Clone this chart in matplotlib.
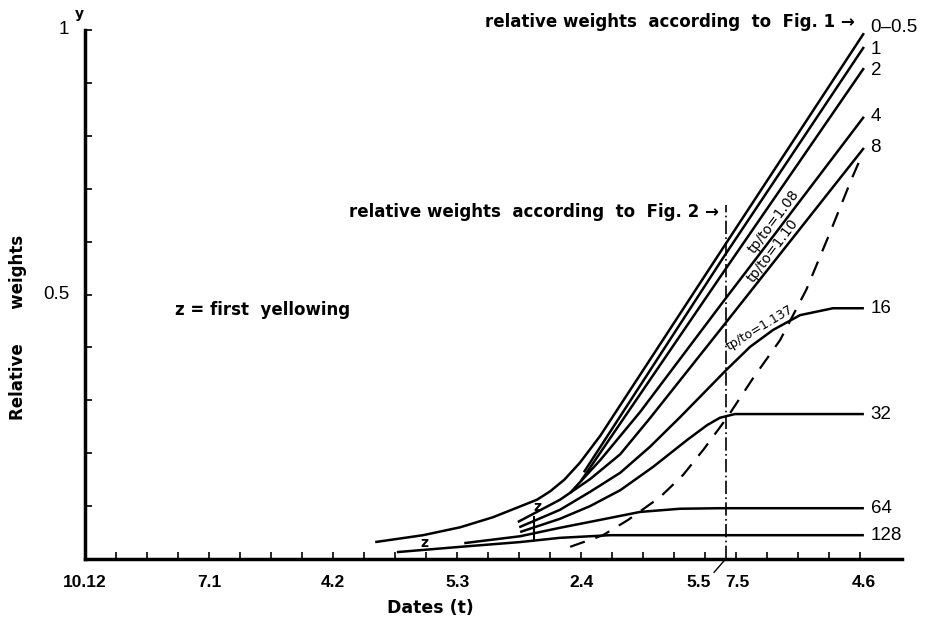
import matplotlib
matplotlib.use("Agg")
import matplotlib.pyplot as plt

# x = days after 10 Dec, y = relative weight
date_pos = [0, 28, 56, 84, 112, 175.8]
date_labels = ["10.12", "7.1", "4.2", "5.3", "2.4", "4.6"]
fig2_day = 144.6
fig1_day = 175.8

curve_labels = ["0\u20130.5", "1", "2", "4", "8", "16", "32", "64", "128"]

c00_x = [65.5, 76.3, 84.7, 92.1, 102.0, 105.0, 108.2, 111.7, 116.3, 144.0, 175.8]
c00_y = [0.032, 0.045, 0.060, 0.079, 0.112, 0.128, 0.150, 0.182, 0.233, 0.588, 0.994]
c01_x = [112.6, 144.0, 175.8]
c01_y = [0.164, 0.569, 0.968]
c02_x = [111.9, 144.0, 175.8]
c02_y = [0.147, 0.541, 0.928]
c04_x = [109.5, 116.3, 125.3, 144.0, 155.5, 175.8]
c04_y = [0.125, 0.187, 0.278, 0.486, 0.612, 0.836]
c08_x = [97.7, 107.2, 114.0, 120.8, 127.5, 144.0, 175.8]
c08_y = [0.070, 0.112, 0.151, 0.198, 0.266, 0.440, 0.777]
c16_x = [98.0, 107.2, 114.0, 120.8, 127.5, 134.3, 144.7, 150.1, 155.3, 161.4, 168.8, 175.8]
c16_y = [0.060, 0.093, 0.127, 0.163, 0.212, 0.268, 0.357, 0.401, 0.433, 0.461, 0.474, 0.474]
c32_x = [98.2, 107.2, 114.0, 120.8, 128.2, 135.9, 140.4, 143.3, 146.7, 175.8]
c32_y = [0.051, 0.076, 0.100, 0.130, 0.174, 0.225, 0.253, 0.267, 0.274, 0.274]
c64_x = [85.6, 98.2, 107.2, 116.3, 125.3, 134.3, 143.3, 175.8]
c64_y = [0.030, 0.043, 0.059, 0.074, 0.089, 0.095, 0.096, 0.096]
c128_x = [70.4, 84.7, 98.2, 107.2, 118.5, 175.8]
c128_y = [0.013, 0.023, 0.032, 0.040, 0.045, 0.045]

dash_x = [109.5, 116.9, 122.6, 129.8, 135.0, 139.7, 144.9, 150.8, 156.9, 162.8, 168.2, 173.1, 175.4]
dash_y = [0.023, 0.045, 0.074, 0.117, 0.159, 0.208, 0.267, 0.342, 0.414, 0.509, 0.618, 0.720, 0.764]

curves = [(c00_x, c00_y), (c01_x, c01_y), (c02_x, c02_y), (c04_x, c04_y), (c08_x, c08_y),
          (c16_x, c16_y), (c32_x, c32_y), (c64_x, c64_y), (c128_x, c128_y)]
# small nudges so the stacked end labels do not collide
label_nudge = [0.01, -0.004, -0.004, 0, 0, 0, 0, 0, 0]

fig = plt.figure(figsize=(9.28, 6.24), dpi=100)
ax = fig.add_axes([85 / 928, 65 / 624, 817 / 928, 529 / 624])

lib = "Liberation Sans"
for (xs, ys), lab, dy in zip(curves, curve_labels, label_nudge):
    ax.plot(xs, ys, color="black", lw=1.8, solid_capstyle="butt")
    ax.text(fig1_day + 1.5, ys[-1] + dy, lab, fontsize=13.5, family=lib, va="center", ha="left")

ax.plot(dash_x, dash_y, color="black", lw=1.6, dashes=(7, 5))

# reference lines
ax.plot([fig2_day, fig2_day], [0, 0.67], color="black", lw=1.2, dashes=(8, 2, 1, 2))
ax.annotate("", xy=(fig1_day, 1.04), xytext=(fig1_day, 0),
            arrowprops=dict(arrowstyle="-|>", color="black", lw=1.2, ls=(0, (8, 2, 1, 2)),
                            mutation_scale=10))

ax.text(fig1_day - 2, 1.015, "relative weights  according  to  Fig. 1 \u2192", ha="right", va="center",
        fontsize=12, fontweight="bold")
ax.text(fig2_day - 1.5, 0.656, "relative weights  according  to  Fig. 2 \u2192", ha="right", va="center",
        fontsize=12, fontweight="bold")
ax.text(20.3, 0.471, "z = first  yellowing", fontsize=12, fontweight="bold", va="center")

ax.text(155.5, 0.637, "tp/to=1.08", rotation=53, fontsize=10, ha="center", va="center")
ax.text(155.3, 0.582, "tp/to=1.10", rotation=53, fontsize=10, ha="center", va="center")
ax.text(152.4, 0.437, "tp/to=1.137", rotation=31, fontsize=9, ha="center", va="center")

ax.text(102.0, 0.098, "z", fontsize=10, fontweight="bold", ha="center", va="center")
ax.text(76.5, 0.030, "z", fontsize=10, fontweight="bold", ha="center", va="center")
ax.plot([101.3, 101.3], [0.036, 0.08], color="black", lw=1.5)

ax.set_xlim(0, 184.4)
ax.set_ylim(0, 1)
for s in ["top", "right"]:
    ax.spines[s].set_visible(False)
ax.spines["left"].set_linewidth(2.5)
ax.spines["bottom"].set_linewidth(2.5)

ax.set_xticks(range(7, 176, 7))
ax.set_xticklabels([])
ax.tick_params(axis="x", direction="in", length=5, width=1.2)
ax.set_yticks([0.1 * i for i in range(1, 11)])
ax.set_yticklabels([])
ax.tick_params(axis="y", direction="in", length=5, width=1.2)

for p, lab in zip(date_pos, date_labels):
    ax.text(p, -0.045, lab, fontsize=12.5, family=lib, fontweight="bold", ha="center", va="center")
ax.text(138.6, -0.045, "5.5", fontsize=12.5, family=lib, fontweight="bold", ha="center", va="center")
ax.text(147.2, -0.045, "7.5", fontsize=12.5, family=lib, fontweight="bold", ha="center", va="center")
ax.plot([142.0, fig2_day], [-0.025, 0], color="black", lw=1, clip_on=False)

ax.text(-3.5, 1.0, "1", fontsize=13.5, family=lib, ha="right", va="center")
ax.text(-2.2, 1.03, "y", fontsize=10, fontweight="bold", ha="left", va="center")
ax.text(-3.5, 0.5, "0.5", fontsize=13.5, family=lib, ha="right", va="center")

ax.text(77.9, -0.093, "Dates (t)", fontsize=12.5, fontweight="bold", ha="center", va="center")
ax.text(-15.1, 0.437, "Relative      weights", rotation=90, fontsize=12, fontweight="bold",
        ha="center", va="center")

fig.savefig("out.png", dpi=100)
